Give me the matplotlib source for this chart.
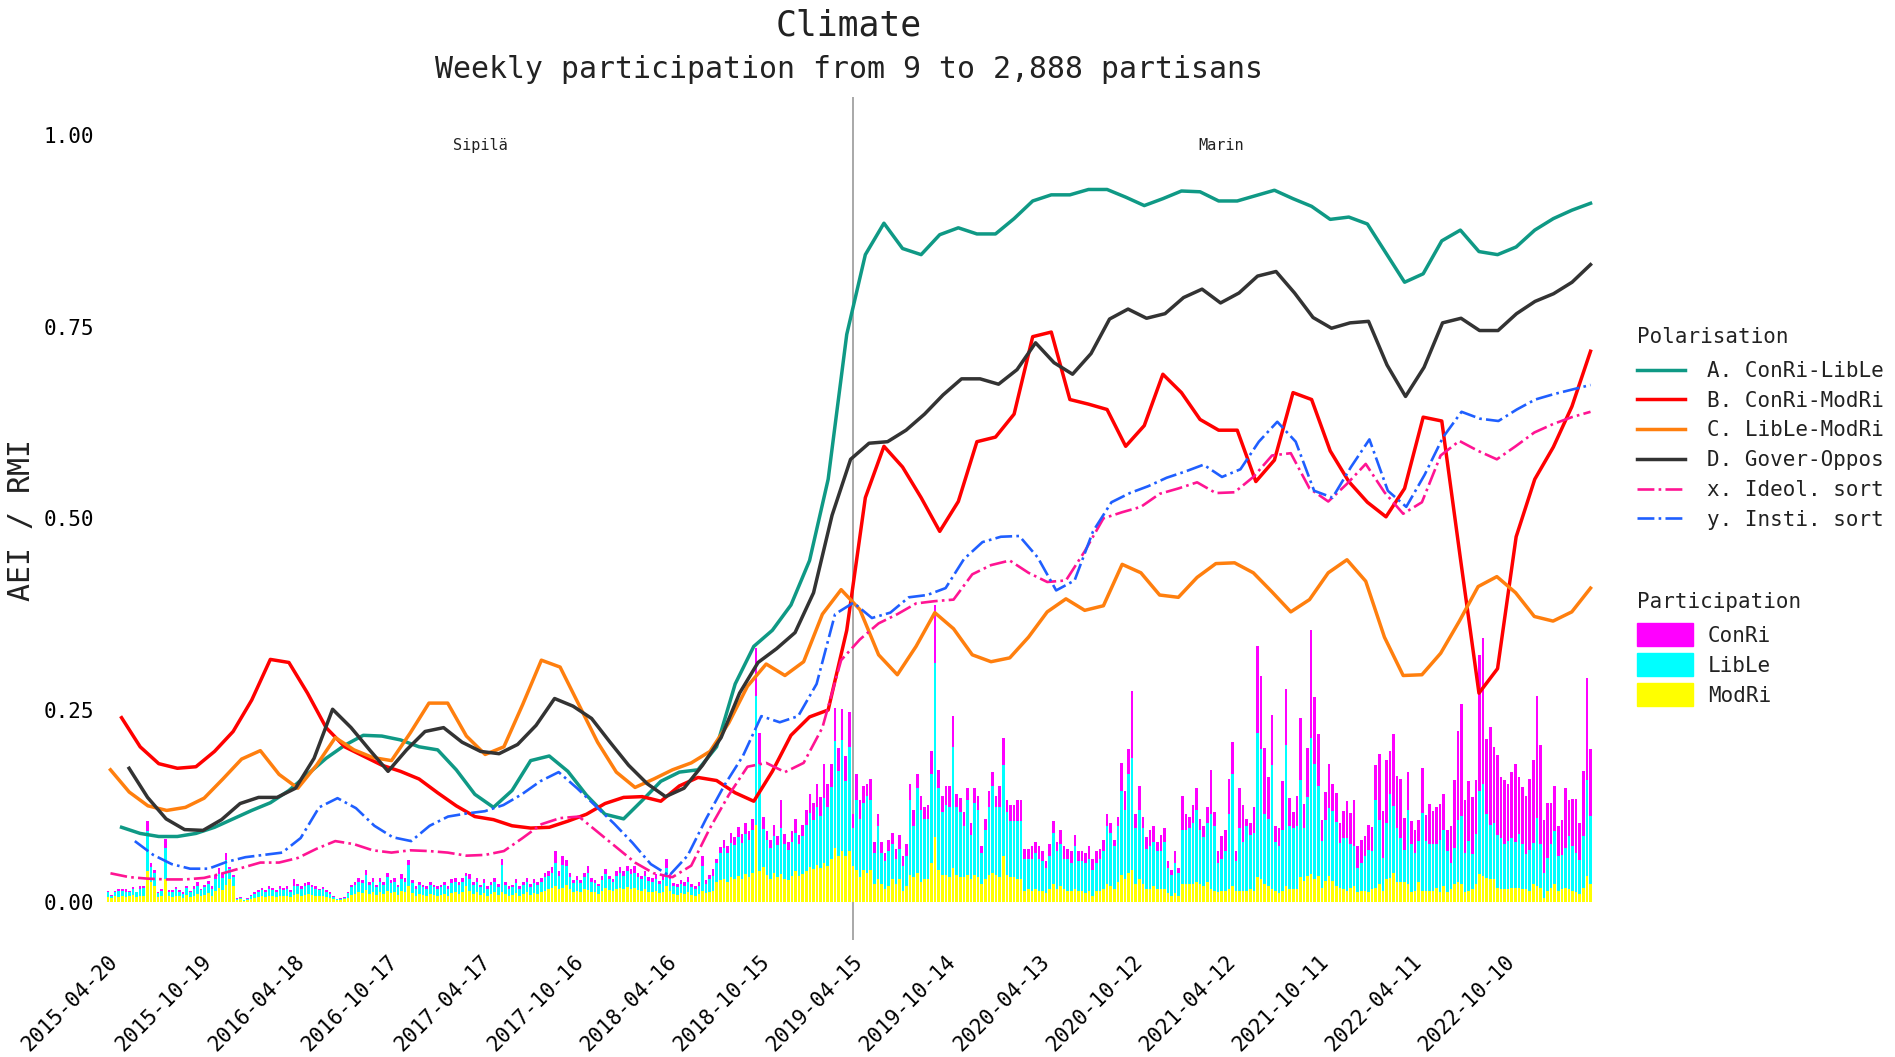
import numpy as np
import matplotlib.pyplot as plt
from matplotlib.patches import Patch
from matplotlib.transforms import ScaledTranslation

plt.rcParams["font.family"] = ["DejaVu Sans Mono"]
plt.rcParams["text.color"] = "#222222"

# weekly participation per camp, in thousandths of the y scale; week 0 = 2015-04-20
modri = [
    6, 5, 7, 6, 8, 6, 7, 9, 6, 8,
    8, 40, 25, 20, 6, 8, 30, 7,
    6, 8, 7, 5, 9, 6, 8, 10, 7, 9, 11, 8,
    14, 18, 15, 22, 30, 20,
    2, 3, 1, 2,
    4, 5, 6, 7, 6, 8, 7, 6, 8, 7, 8, 6, 9, 10, 8, 9, 10, 9, 8, 7, 8, 6, 5, 3,
    2, 2, 3, 5,
    9, 10, 12, 11, 15, 10, 12, 9, 12, 10, 14, 11, 12, 9, 14, 12, 20, 11, 8, 10, 9, 8, 10, 9,
    8, 9, 10, 8, 11, 12, 10, 12, 20, 14, 10, 12, 9, 11, 8, 10, 12, 9, 12,
    10, 8, 9, 11, 8, 10, 12, 9, 11, 10, 12, 14,
    16, 18, 20, 16, 18, 22, 16,
    12, 14, 12, 16, 15, 13, 12, 10, 14, 18, 15, 14,
    16, 18, 16, 19, 17, 18, 15, 14, 16, 13, 12, 14, 11, 13, 20, 14,
    10, 9, 11, 10, 12, 9, 8, 10, 14, 11, 13, 14,
    25, 28, 30, 26, 32, 30, 34, 30, 36, 32, 38,
    100, 40,
    45, 35, 30, 38, 32, 36, 30, 28, 34, 40, 33, 36,
    40, 45, 42, 48, 44, 50, 46, 55,
    70, 60,
    66, 60, 66,
    47, 41, 32, 41, 38, 41, 23, 29, 23, 17,
    20, 29, 23, 29, 14, 20, 35, 32, 38, 26,
    29, 29, 50, 84, 41, 35, 35, 32, 44, 35,
    32, 32, 35, 29, 35, 32, 23, 29, 35, 38,
    35, 32, 60, 35, 32, 32, 29, 29, 14, 17,
    14, 17, 14, 14, 11, 17, 23, 17, 20, 17,
    14, 14, 17, 14, 14, 11, 14, 8, 14, 14,
    17, 23, 20, 17, 26, 35, 29, 38, 41, 23,
    29, 23, 17, 17, 20, 17, 17, 17, 11, 8,
    11, 8, 23, 23, 23, 23, 26, 23, 20, 26,
    17, 14, 12, 14, 14, 17, 20, 14, 14, 14, 14, 17, 14, 32, 29, 23, 20, 17, 14, 11, 14, 20, 17, 17, 17,
    32, 27, 33, 36, 29, 33, 18, 27, 33, 27, 20, 18, 16, 14, 18, 20, 12, 14, 14, 12,
    16, 18, 23, 14, 29, 31, 38, 25, 25, 25, 23, 12, 14, 25, 14, 14, 14, 14, 18, 12,
    20, 12, 16, 23, 25, 23, 12, 14, 16, 23, 36, 33, 31, 29, 29, 18, 16, 16, 16, 18,
    18, 18, 16, 16, 14, 23, 20, 18, 5, 14, 18, 23, 14, 16, 18, 16, 14, 12, 10, 18,
    33, 23,
]
lible = [
    6, 3, 5, 8, 6, 7, 5, 8, 6, 9,
    10, 52, 20, 18, 5, 6, 40, 6,
    7, 8, 6, 5, 9, 6, 9, 11, 8, 10, 12, 9,
    16, 18, 16, 32, 12, 12,
    2, 2, 1, 2,
    4, 5, 7, 8, 7, 9, 8, 7, 9, 8, 9, 7, 12, 10, 9, 11, 12, 10, 9, 8, 8, 7, 5, 3,
    1, 2, 2, 6,
    10, 12, 14, 13, 20, 12, 14, 10, 14, 12, 18, 13, 14, 10, 16, 14, 28, 13, 9, 12, 10, 9, 12, 10,
    9, 10, 12, 9, 13, 14, 12, 14, 14, 16, 12, 14, 10, 13, 9, 12, 14, 10, 36,
    12, 9, 10, 13, 9, 12, 14, 10, 13, 12, 14, 18,
    18, 20, 30, 18, 30, 24, 16,
    12, 14, 12, 16, 22, 13, 12, 10, 14, 18, 14, 12,
    18, 20, 18, 21, 19, 20, 17, 15, 18, 14, 14, 16, 12, 15, 24, 16,
    10, 10, 12, 11, 14, 10, 9, 11, 32, 12, 16, 20,
    25, 35, 40, 38, 45, 44, 50, 46, 52, 48, 55,
    168, 139,
    50, 45, 40, 48, 42, 60, 45, 40, 44, 50, 42, 50,
    60, 70, 65, 75, 68, 85, 78, 95,
    140, 110,
    145, 97, 136,
    49, 91, 76, 88, 100, 91, 40, 70, 40, 36,
    46, 46, 33, 40, 33, 40, 97, 67, 110, 94,
    79, 79, 116, 227, 107, 82, 91, 91, 158, 88,
    85, 67, 97, 58, 94, 88, 40, 64, 88, 113,
    88, 91, 118, 82, 73, 73, 76, 76, 42, 39,
    42, 46, 42, 39, 33, 43, 67, 49, 55, 39,
    42, 36, 55, 39, 39, 39, 42, 33, 36, 42,
    49, 76, 70, 55, 73, 110, 91, 128, 146, 73,
    91, 73, 52, 55, 58, 49, 49, 61, 33, 27,
    39, 30, 70, 70, 73, 79, 94, 70, 64, 76,
    97, 85, 38, 42, 52, 97, 146, 39, 82, 64, 85, 70, 76, 188, 170, 91, 88, 161, 64, 61, 79, 185, 82, 79, 82,
    127, 69, 103, 178, 150, 118, 61, 80, 89, 91, 84, 59, 67, 69, 57, 53, 32, 37, 46, 56,
    50, 114, 84, 43, 74, 109, 87, 71, 58, 43, 97, 63, 50, 54, 102, 65, 61, 61, 57, 69,
    73, 54, 35, 47, 82, 89, 52, 65, 46, 65, 108, 120, 83, 71, 74, 69, 67, 59, 63, 65,
    60, 70, 59, 46, 54, 53, 89, 57, 33, 43, 57, 69, 46, 45, 52, 70, 59, 52, 44, 68,
    126, 89,
]
conri = [
    2, 1, 2, 2, 2, 3, 2, 2, 1, 3,
    3, 13, 5, 3, 2, 2, 12, 2,
    2, 3, 2, 2, 3, 2, 3, 4, 2, 3, 4, 3,
    5, 8, 6, 10, 3, 3,
    1, 1, 0, 1,
    1, 2, 2, 3, 2, 3, 3, 2, 3, 3, 3, 2, 8, 3, 3, 4, 4, 3, 3, 2, 3, 2, 2, 1,
    0, 1, 1, 2,
    3, 4, 5, 4, 6, 4, 5, 3, 5, 4, 6, 4, 5, 3, 6, 5, 6, 4, 3, 4, 3, 3, 4, 3,
    3, 3, 4, 3, 5, 5, 4, 5, 4, 6, 4, 5, 3, 5, 3, 4, 5, 4, 8,
    4, 3, 3, 5, 3, 4, 5, 4, 5, 4, 5, 6,
    6, 7, 16, 6, 12, 8, 6,
    4, 5, 4, 6, 10, 5, 4, 3, 5, 6, 5, 4,
    6, 7, 6, 7, 7, 8, 6, 5, 6, 5, 5, 6, 4, 6, 12, 6,
    4, 4, 5, 4, 6, 4, 3, 4, 14, 5, 6, 8,
    6, 8, 10, 9, 12, 10, 14, 12, 14, 12, 15,
    63, 41,
    15, 12, 10, 14, 12, 37, 13, 10, 14, 18, 12, 14,
    20, 25, 22, 30, 25, 45, 30, 30,
    43, 30,
    40, 33, 46,
    18, 34, 24, 22, 16, 28, 15, 15, 15, 10,
    15, 15, 13, 18, 13, 15, 22, 21, 18, 18,
    15, 18, 30, 76, 24, 21, 25, 28, 40, 17,
    18, 18, 16, 16, 19, 18, 9, 15, 22, 18,
    15, 28, 36, 15, 21, 21, 27, 27, 13, 13,
    16, 15, 16, 13, 9, 15, 15, 12, 18, 16,
    13, 16, 15, 13, 13, 13, 16, 15, 16, 13,
    15, 15, 12, 9, 12, 36, 25, 33, 88, 18,
    31, 15, 15, 21, 21, 12, 21, 18, 9, 6,
    16, 6, 45, 21, 15, 24, 28, 15, 15, 21,
    58, 18, 16, 29, 27, 46, 42, 13, 52, 48, 9, 16, 33, 113, 96, 86, 55, 65, 21, 24, 64, 72, 36, 21, 39,
    81, 31, 64, 140, 88, 68, 28, 36, 58, 36, 38, 26, 35, 48, 41, 59, 28, 30, 26, 32,
    31, 46, 85, 61, 82, 56, 94, 68, 77, 41, 49, 30, 30, 27, 58, 34, 52, 43, 48, 46,
    48, 27, 48, 89, 115, 146, 69, 79, 74, 71, 178, 191, 98, 128, 99, 104, 79, 84, 74, 86,
    102, 74, 74, 76, 92, 109, 159, 129, 69, 72, 54, 59, 39, 46, 78, 46, 61, 70, 49, 84,
    133, 87,
]

# polarisation indices, 80 samples each, first sample week differs per series
conri_lible = [
    0.097, 0.089, 0.085, 0.085, 0.089, 0.097, 0.108, 0.119, 0.129, 0.145,
    0.166, 0.187, 0.204, 0.217, 0.216, 0.211, 0.202, 0.198, 0.172, 0.140,
    0.123, 0.145, 0.184, 0.190, 0.170, 0.139, 0.114, 0.108, 0.132, 0.157,
    0.169, 0.172, 0.202, 0.284, 0.333, 0.354, 0.387, 0.445, 0.551, 0.740,
    0.844, 0.885, 0.852, 0.844, 0.870, 0.879, 0.871, 0.871, 0.891, 0.914,
    0.922, 0.922, 0.929, 0.929, 0.919, 0.908, 0.917, 0.927, 0.926, 0.914,
    0.914, 0.921, 0.928, 0.917, 0.907, 0.890, 0.893, 0.884, 0.846, 0.808,
    0.819, 0.862, 0.876, 0.848, 0.844, 0.854, 0.876, 0.891, 0.902, 0.911,
]
conri_modri = [
    0.240, 0.202, 0.180, 0.174, 0.176, 0.196, 0.222, 0.263, 0.316, 0.312,
    0.272, 0.227, 0.202, 0.190, 0.178, 0.170, 0.160, 0.142, 0.125, 0.111,
    0.107, 0.099, 0.096, 0.097, 0.105, 0.114, 0.128, 0.136, 0.137, 0.131,
    0.151, 0.162, 0.158, 0.142, 0.131, 0.170, 0.217, 0.241, 0.250, 0.354,
    0.527, 0.594, 0.567, 0.527, 0.483, 0.522, 0.600, 0.606, 0.636, 0.737,
    0.743, 0.655, 0.649, 0.642, 0.594, 0.621, 0.688, 0.664, 0.629, 0.615,
    0.615, 0.548, 0.576, 0.664, 0.655, 0.588, 0.548, 0.521, 0.502, 0.539,
    0.632, 0.627, 0.448, 0.272, 0.304, 0.476, 0.551, 0.593, 0.646, 0.718,
]
lible_modri = [
    0.172, 0.143, 0.125, 0.119, 0.123, 0.135, 0.160, 0.186, 0.197, 0.166,
    0.148, 0.178, 0.214, 0.198, 0.188, 0.184, 0.220, 0.259, 0.259, 0.216,
    0.192, 0.202, 0.257, 0.315, 0.306, 0.257, 0.208, 0.169, 0.149, 0.160,
    0.172, 0.181, 0.196, 0.233, 0.281, 0.310, 0.295, 0.313, 0.375, 0.407,
    0.381, 0.322, 0.296, 0.333, 0.377, 0.356, 0.322, 0.313, 0.318, 0.345,
    0.378, 0.395, 0.380, 0.386, 0.440, 0.429, 0.400, 0.397, 0.423, 0.441,
    0.442, 0.429, 0.404, 0.378, 0.394, 0.429, 0.446, 0.418, 0.345, 0.295,
    0.296, 0.324, 0.366, 0.411, 0.424, 0.403, 0.372, 0.366, 0.378, 0.409,
]
gover_oppos = [
    0.174, 0.136, 0.108, 0.094, 0.093, 0.107, 0.128, 0.136, 0.136, 0.148,
    0.187, 0.251, 0.227, 0.198, 0.170, 0.198, 0.222, 0.227, 0.208, 0.196,
    0.193, 0.205, 0.230, 0.265, 0.255, 0.239, 0.208, 0.178, 0.154, 0.137,
    0.148, 0.178, 0.214, 0.272, 0.312, 0.330, 0.351, 0.403, 0.504, 0.577,
    0.598, 0.600, 0.615, 0.636, 0.661, 0.682, 0.682, 0.675, 0.694, 0.729,
    0.703, 0.688, 0.715, 0.760, 0.773, 0.761, 0.767, 0.788, 0.799, 0.781,
    0.794, 0.816, 0.822, 0.794, 0.762, 0.748, 0.755, 0.757, 0.700, 0.659,
    0.697, 0.755, 0.761, 0.745, 0.745, 0.767, 0.783, 0.793, 0.808, 0.831,
]
ideol_sort = [
    0.037, 0.032, 0.030, 0.029, 0.029, 0.031, 0.037, 0.044, 0.051, 0.051,
    0.057, 0.069, 0.079, 0.075, 0.067, 0.064, 0.067, 0.066, 0.064, 0.060,
    0.061, 0.066, 0.083, 0.101, 0.109, 0.111, 0.091, 0.071, 0.051, 0.037,
    0.032, 0.047, 0.096, 0.139, 0.176, 0.181, 0.169, 0.181, 0.227, 0.315,
    0.342, 0.363, 0.375, 0.389, 0.392, 0.394, 0.427, 0.439, 0.445, 0.429,
    0.417, 0.419, 0.457, 0.500, 0.508, 0.515, 0.532, 0.539, 0.547, 0.533,
    0.534, 0.554, 0.582, 0.585, 0.539, 0.522, 0.545, 0.571, 0.534, 0.506,
    0.521, 0.582, 0.601, 0.588, 0.577, 0.594, 0.612, 0.623, 0.632, 0.639,
]
insti_sort = [
    0.079, 0.061, 0.049, 0.043, 0.043, 0.052, 0.058, 0.061, 0.064, 0.083,
    0.123, 0.135, 0.122, 0.099, 0.084, 0.079, 0.099, 0.111, 0.115, 0.118,
    0.126, 0.140, 0.157, 0.169, 0.148, 0.125, 0.102, 0.077, 0.049, 0.034,
    0.060, 0.108, 0.152, 0.190, 0.242, 0.234, 0.242, 0.284, 0.375, 0.390,
    0.370, 0.377, 0.397, 0.400, 0.409, 0.447, 0.469, 0.476, 0.477, 0.449,
    0.406, 0.419, 0.483, 0.521, 0.533, 0.542, 0.553, 0.561, 0.570, 0.554,
    0.564, 0.600, 0.626, 0.600, 0.536, 0.527, 0.567, 0.603, 0.536, 0.515,
    0.557, 0.606, 0.639, 0.630, 0.627, 0.642, 0.655, 0.662, 0.668, 0.674,
]
first_week = {"A": 3.8, "B": 3.8, "C": 0.7, "D": 5.9, "x": 0.7, "y": 7.5}
last_week = 414

tick_labels = ["2015-04-20", "2015-10-19", "2016-04-18", "2016-10-17",
               "2017-04-17", "2017-10-16", "2018-04-16", "2018-10-15",
               "2019-04-15", "2019-10-14", "2020-04-13", "2020-10-12",
               "2021-04-12", "2021-10-11", "2022-04-11", "2022-10-10"]
governments = ["Sipilä", "Marin"]
gov_change_week = 208

assert len(modri) == len(lible) == len(conri) == 415

fig = plt.figure(figsize=(18.95, 10.57), dpi=100)
ax = fig.add_axes([0.0513, 0.1107, 0.7937, 0.7978])

weeks = np.arange(len(modri))
y_m = np.array(modri) / 1000
y_l = np.array(lible) / 1000
y_c = np.array(conri) / 1000
ax.bar(weeks, y_m, width=0.72, color="#ffff00", linewidth=0, zorder=2)
ax.bar(weeks, y_l, bottom=y_m, width=0.72, color="#00ffff", linewidth=0, zorder=2)
ax.bar(weeks, y_c, bottom=y_m + y_l, width=0.72, color="#ff00ff", linewidth=0, zorder=2)

series = [
    ("A", conri_lible, "A. ConRi-LibLe", "#0f9985", "-", 2.5),
    ("B", conri_modri, "B. ConRi-ModRi", "#ff0000", "-", 2.5),
    ("C", lible_modri, "C. LibLe-ModRi", "#ff7f0e", "-", 2.5),
    ("D", gover_oppos, "D. Gover-Oppos", "#333333", "-", 2.5),
    ("x", ideol_sort, "x. Ideol. sort", "#ff1493", "-.", 1.9),
    ("y", insti_sort, "y. Insti. sort", "#1f5fff", "-.", 1.9),
]
handles = []
for key, vals, lab, col, ls, lw in series:
    xs = np.linspace(first_week[key], last_week, len(vals))
    h, = ax.plot(xs, vals, color=col, linestyle=ls, linewidth=lw, label=lab, zorder=3)
    handles.append(h)

ax.axvline(gov_change_week, color="#999999", linewidth=1.2, zorder=1)
bounds = [0, gov_change_week, last_week]
for i, name in enumerate(governments):
    ax.text((bounds[i] + bounds[i + 1]) / 2, 0.986, name, ha="center", va="center",
            fontsize=11)

ax.set_xlim(-3, 417)
ax.set_ylim(-0.05, 1.05)
ax.set_xticks(np.arange(len(tick_labels)) * 26)
ax.set_xticklabels(tick_labels, rotation=45, ha="right", va="top",
                   rotation_mode="anchor", fontsize=15)
shift = ScaledTranslation(0.09, 0, fig.dpi_scale_trans)
for lbl in ax.get_xticklabels():
    lbl.set_transform(lbl.get_transform() + shift)
ax.set_yticks([0, 0.25, 0.5, 0.75, 1.0])
ax.set_yticklabels(["0.00", "0.25", "0.50", "0.75", "1.00"], fontsize=15)
ax.tick_params(axis="x", length=0, pad=8)
ax.tick_params(axis="y", length=0, pad=2)
for s in ax.spines.values():
    s.set_visible(False)

fig.text(849 / 1895, 1 - 26 / 1057, "Climate", ha="center", va="center", fontsize=25)
fig.text(849 / 1895, 1 - 69 / 1057, "Weekly participation from 9 to 2,888 partisans",
         ha="center", va="center", fontsize=21.5)
fig.text(22 / 1895, 0.508, "AEI / RMI", rotation=90, ha="center", va="center", fontsize=21.5)

leg1 = fig.legend(handles=handles, loc="upper left", bbox_to_anchor=(0.8639, 0.6905),
                  frameon=False, title="Polarisation", title_fontsize=15, fontsize=15,
                  alignment="left", handlelength=2.3, handletextpad=1.05,
                  labelspacing=0.47, borderpad=0, borderaxespad=0)
leg1._legend_box.sep = 15 * 0.47 + 2.8
part_handles = [Patch(color="#ff00ff"), Patch(color="#00ffff"), Patch(color="#ffff00")]
leg2 = fig.legend(handles=part_handles, labels=["ConRi", "LibLe", "ModRi"],
                  loc="upper left", bbox_to_anchor=(0.8639, 0.4395), frameon=False,
                  title="Participation", title_fontsize=15, fontsize=15,
                  alignment="left", handlelength=2.7, handleheight=1.35,
                  handletextpad=0.7, labelspacing=0.32, borderpad=0, borderaxespad=0)
leg2._legend_box.sep = 15 * 0.32 + 2.8

fig.savefig("out.png", dpi=100)
